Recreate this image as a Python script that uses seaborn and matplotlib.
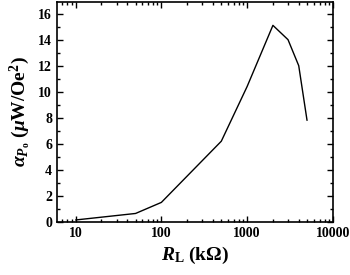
import numpy as np
import pandas as pd
import matplotlib
matplotlib.use("Agg")
import matplotlib.pyplot as plt
import seaborn as sns
from matplotlib.ticker import LogLocator, MultipleLocator, NullFormatter

# data
r_load = [10, 50, 100, 500, 1000, 2000, 3000, 4000, 5000]
alpha_p0 = [0.15, 0.65, 1.5, 6.2, 10.4, 15.1, 14.0, 12.0, 7.8]
x_ticks = [10, 100, 1000, 10000]
x_labels = ["10", "100", "1000", "10000"]

df = pd.DataFrame({"RL": r_load, "alpha": alpha_p0})

sns.set_style("ticks")
plt.rcParams['font.family'] = ['Liberation Serif', 'DejaVu Serif']
plt.rcParams['mathtext.fontset'] = 'custom'
plt.rcParams['mathtext.rm'] = 'Liberation Serif:bold'
plt.rcParams['mathtext.it'] = 'Liberation Serif:italic:bold'
plt.rcParams['mathtext.bf'] = 'Liberation Serif:bold'
for k in ['text.color', 'axes.labelcolor', 'xtick.color', 'ytick.color', 'axes.edgecolor']:
    plt.rcParams[k] = 'black'

fig = plt.figure(figsize=(3.5, 2.75), dpi=100)
ax = fig.add_axes([0.163, 0.193, 0.788, 0.80])
sns.lineplot(data=df, x="RL", y="alpha", color="black", linewidth=1.0, ax=ax)

ax.set_xscale("log")
ax.set_xlim(6.07, 10000)
ax.set_ylim(0, 16.9)
ax.xaxis.set_minor_locator(LogLocator(base=10, subs=np.arange(2, 10), numticks=20))
ax.xaxis.set_minor_formatter(NullFormatter())
ax.set_xticks(x_ticks)
ax.set_xticklabels(x_labels)
ax.yaxis.set_major_locator(MultipleLocator(2))
ax.yaxis.set_minor_locator(MultipleLocator(1))

ax.tick_params(which="both", direction="in", top=True, right=True, width=1.0,
               labelsize=10)
ax.tick_params(which="major", length=4)
ax.tick_params(which="minor", length=2)
for lab in ax.get_xticklabels() + ax.get_yticklabels():
    lab.set_fontweight("bold")
for s in ax.spines.values():
    s.set_linewidth(1.2)

ax.set_xlabel(r"$\mathit{R}_{\mathrm{L}}$ (k$\Omega$)", fontsize=14, fontweight="bold")
ax.set_ylabel(r"$\mathit{\alpha}_{\mathit{P}_\mathrm{o}}$ ($\mathit{\mu}$W/Oe$^2$)", fontsize=14,
              fontweight="bold")

fig.savefig("out.png", dpi=100)
